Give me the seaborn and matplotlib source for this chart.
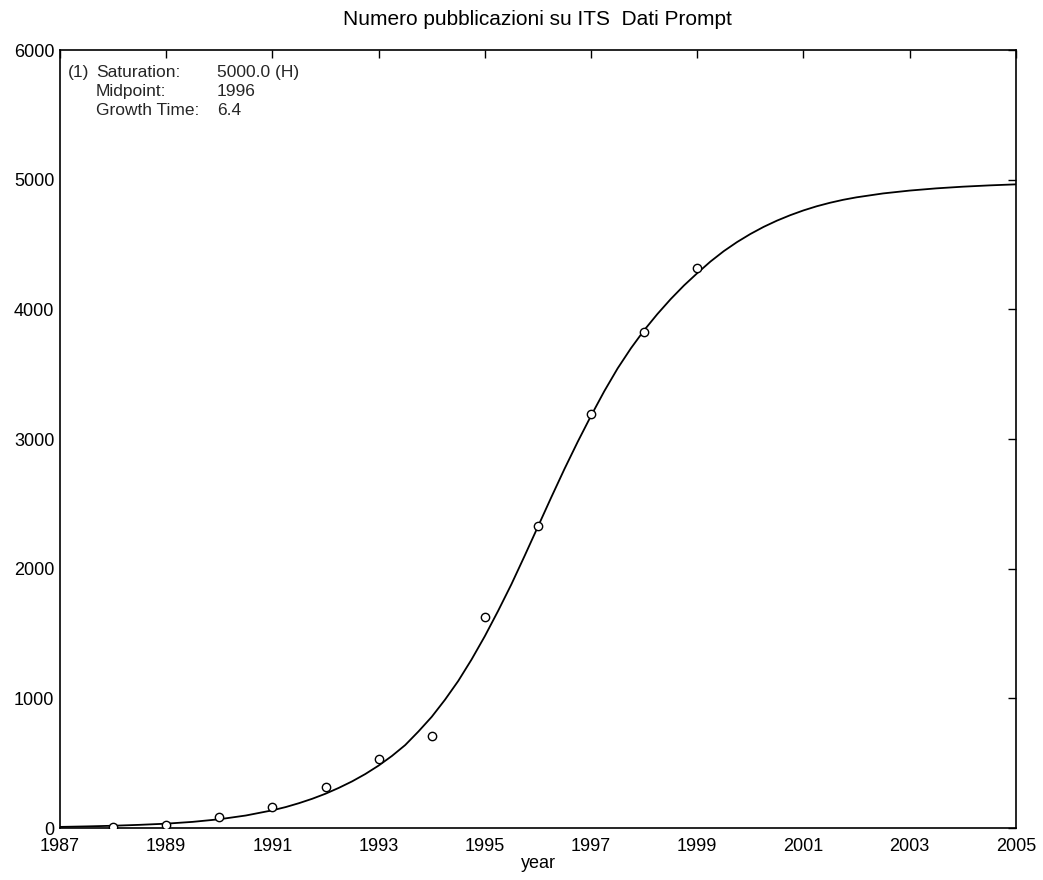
import matplotlib
matplotlib.use("Agg")
import matplotlib.pyplot as plt
import seaborn as sns
import pandas as pd

obs_years = [1988, 1989, 1990, 1991, 1992, 1993, 1994, 1995, 1996, 1997, 1998, 1999]
obs_values = [5, 20, 85, 160, 320, 530, 710, 1625, 2330, 3190, 3830, 4320]

# Fitted curve
fit_years = [1987, 1987.5, 1988, 1988.5, 1989, 1989.5, 1990, 1990.5,
             1991, 1991.25, 1991.5, 1991.75, 1992, 1992.25, 1992.5, 1992.75,
             1993, 1993.25, 1993.5, 1993.75, 1994, 1994.25, 1994.5, 1994.75,
             1995, 1995.25, 1995.5, 1995.75, 1996, 1996.25, 1996.5, 1996.75,
             1997, 1997.25, 1997.5, 1997.75, 1998, 1998.25, 1998.5, 1998.75,
             1999, 1999.25, 1999.5, 1999.75, 2000, 2000.25, 2000.5, 2000.75,
             2001, 2001.25, 2001.5, 2001.75, 2002, 2002.5, 2003, 2003.5,
             2004, 2004.5, 2005]
fit_values = [9, 13, 18, 25, 34, 48, 68, 97,
              137, 162, 192, 226, 265, 310, 360, 417,
              482, 556, 640, 745, 858, 990, 1135, 1300,
              1480, 1675, 1880, 2100, 2325, 2550, 2770, 2980,
              3180, 3370, 3545, 3700, 3840, 3965, 4080, 4185,
              4280, 4370, 4450, 4520, 4582, 4637, 4685, 4727,
              4764, 4796, 4823, 4846, 4865, 4895, 4917, 4934,
              4947, 4957, 4965]

x_ticks = list(range(1987, 2006, 2))
y_ticks = list(range(0, 6001, 1000))

title = "Numero pubblicazioni su ITS  Dati Prompt"
ann_prefix = "(1)"
ann_labels = ["Saturation:", "Midpoint:", "Growth Time:"]
ann_values = ["5000.0 (H)", "1996", "6.4"]

sns.set_theme(style="white")
plt.rcParams['font.family'] = ['Liberation Sans', 'DejaVu Sans']

fig = plt.figure(figsize=(10.43, 8.8), dpi=100)
ax = fig.add_axes([0.0575, 0.059, 0.9165, 0.884])

df_fit = pd.DataFrame({"year": fit_years, "value": fit_values})
df_obs = pd.DataFrame({"year": obs_years, "value": obs_values})

sns.lineplot(data=df_fit, x="year", y="value", ax=ax, color="black", linewidth=1.3)
sns.scatterplot(data=df_obs, x="year", y="value", ax=ax, marker="o", s=36,
                facecolor="white", edgecolor="black", linewidth=1.0, zorder=3)

ax.set_xlim(1987, 2005)
ax.set_ylim(0, 6000)
ax.set_xticks(x_ticks)
ax.set_yticks(y_ticks)
ax.tick_params(direction="in", length=6, width=1, top=True, right=True,
               labelsize=13, colors="black", pad=4)
ax.tick_params(axis="x", labeltop=False, pad=7)
for s in ax.spines.values():
    s.set_color("black")
    s.set_linewidth(1.2)
    s.set_visible(True)

ax.set_xlabel("year", fontsize=13, labelpad=0, color="black")
ax.set_ylabel("")
ax.set_title(title, fontsize=15, pad=18, color="black")

row_y = [0.9717, 0.947, 0.923]
ax.text(0.0085, row_y[0], ann_prefix, transform=ax.transAxes, fontsize=12.5,
        va="center", ha="left")
for yy, lab, val in zip(row_y, ann_labels, ann_values):
    ax.text(0.0377, yy, lab, transform=ax.transAxes, fontsize=12.5,
            va="center", ha="left")
    ax.text(0.164, yy, val, transform=ax.transAxes, fontsize=12.5,
            va="center", ha="left")

fig.savefig("out.png", dpi=100, facecolor="white")
